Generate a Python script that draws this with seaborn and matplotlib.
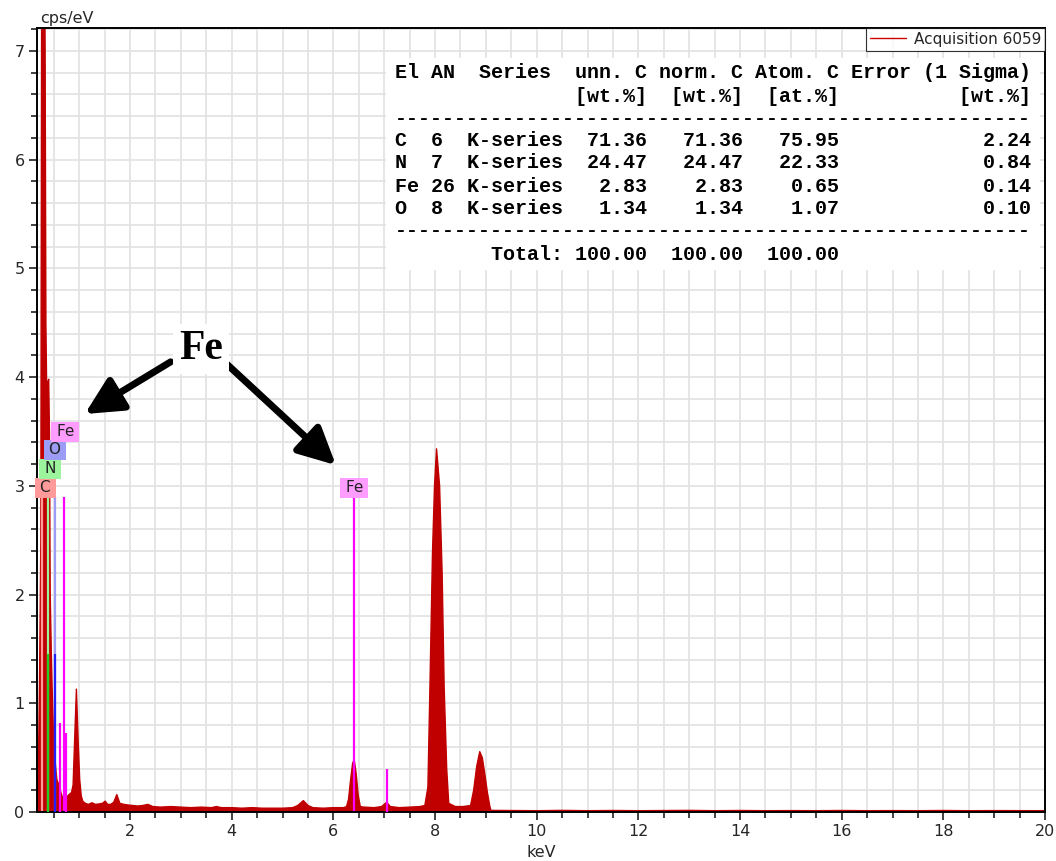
import matplotlib
matplotlib.use("Agg")
import matplotlib.pyplot as plt
from matplotlib.lines import Line2D
from matplotlib.patches import Rectangle
from matplotlib.ticker import MultipleLocator
import pandas as pd
import seaborn as sns

# ---- spectrum (keV, cps/eV) ----
energy_kev = [
    0.17, 0.18, 0.20, 0.22, 0.245, 0.255, 0.27, 0.30, 0.33, 0.345,
    0.36, 0.38, 0.40, 0.415, 0.43, 0.45, 0.47, 0.49, 0.51, 0.53,
    0.56, 0.60, 0.64, 0.68, 0.72, 0.76, 0.80, 0.85, 0.88, 0.91,
    0.945, 0.98, 1.01, 1.04, 1.07, 1.12, 1.18, 1.25, 1.32, 1.40,
    1.46, 1.51, 1.56, 1.62, 1.68, 1.74, 1.80, 1.88, 1.95, 2.05,
    2.15, 2.25, 2.35, 2.45, 2.60, 2.80, 3.00, 3.20, 3.40, 3.60,
    3.70, 3.80, 4.00, 4.20, 4.40, 4.60, 4.80, 5.00, 5.20, 5.30,
    5.41, 5.50, 5.60, 5.80, 6.00, 6.20, 6.26, 6.30, 6.34, 6.38,
    6.41, 6.45, 6.49, 6.53, 6.60, 6.80, 6.95, 7.05, 7.12, 7.30,
    7.50, 7.70, 7.80, 7.86, 7.90, 7.95, 7.99, 8.03, 8.09, 8.14,
    8.18, 8.23, 8.27, 8.40, 8.55, 8.70, 8.76, 8.82, 8.88, 8.93,
    8.98, 9.03, 9.08, 9.10, 9.50, 10.0, 10.5, 11.0, 11.5, 12.0,
    12.5, 13.0, 13.5, 14.0, 14.5, 15.0, 15.5, 16.0, 16.5, 17.0,
    17.5, 18.0, 18.5, 19.0, 19.5, 20.0,
]
counts_cps = [
    0.00, 0.20, 0.50, 1.20, 2.50, 6.00, 9.50, 9.50, 7.00, 4.50,
    3.90, 3.95, 3.98, 3.50, 2.00, 1.50, 1.10, 0.80, 0.60, 0.45,
    0.30, 0.25, 0.18, 0.12, 0.10, 0.14, 0.16, 0.18, 0.25, 0.65,
    1.13, 0.65, 0.30, 0.15, 0.10, 0.08, 0.07, 0.085, 0.07, 0.075,
    0.08, 0.10, 0.07, 0.07, 0.09, 0.16, 0.08, 0.07, 0.065, 0.06,
    0.055, 0.06, 0.07, 0.05, 0.045, 0.05, 0.045, 0.04, 0.045, 0.04,
    0.05, 0.04, 0.04, 0.035, 0.04, 0.035, 0.035, 0.035, 0.04, 0.06,
    0.105, 0.06, 0.04, 0.035, 0.04, 0.04, 0.05, 0.12, 0.30, 0.45,
    0.48, 0.35, 0.15, 0.05, 0.045, 0.04, 0.05, 0.09, 0.05, 0.04,
    0.045, 0.05, 0.06, 0.23, 1.15, 2.38, 3.00, 3.34, 3.00, 2.20,
    1.15, 0.40, 0.08, 0.05, 0.05, 0.06, 0.20, 0.42, 0.555, 0.50,
    0.35, 0.18, 0.05, 0.015, 0.014, 0.012, 0.015, 0.012, 0.014, 0.012,
    0.013, 0.015, 0.012, 0.014, 0.012, 0.013, 0.012, 0.014, 0.012, 0.013,
    0.012, 0.014, 0.012, 0.013, 0.012, 0.012,
]

# ---- element marker lines ----
marker_elements = ["C", "N", "O", "Fe", "Fe"]
marker_energy = [0.277, 0.392, 0.525, 0.705, 6.40]
marker_height = [2.9, 2.9, 2.9, 2.9, 2.9]
marker_label_x = [0.33, 0.43, 0.525, 0.73, 6.415]
marker_label_y = [2.98, 3.155, 3.33, 3.495, 2.98]

# fitted line intensities
line_energy = [0.392, 0.525, 0.628, 0.745, 7.06]
line_height = [1.45, 1.45, 0.82, 0.73, 0.40]
line_element = ["N", "O", "Fe", "Fe", "Fe"]

element_light = {"C": "#ff9a9a", "N": "#9cf59c", "O": "#9c9cf7", "Fe": "#ff9cff"}
element_dark = {"C": "#ff6060", "N": "#22cc22", "O": "#2020ff", "Fe": "#ff00ff"}

# ---- quantification table ----
table_rows = [
    "El AN  Series  unn. C norm. C Atom. C Error (1 Sigma)",
    "               [wt.%]  [wt.%]  [at.%]          [wt.%]",
    "-----------------------------------------------------",
    "C  6  K-series  71.36   71.36   75.95            2.24",
    "N  7  K-series  24.47   24.47   22.33            0.84",
    "Fe 26 K-series   2.83    2.83    0.65            0.14",
    "O  8  K-series   1.34    1.34    1.07            0.10",
    "-----------------------------------------------------",
    "        Total: 100.00  100.00  100.00",
]

x_ticks = [2, 4, 6, 8, 10, 12, 14, 16, 18, 20]
y_ticks = [0, 1, 2, 3, 4, 5, 6, 7]

sns.set_theme(style="white")
plt.rcParams["font.family"] = ["DejaVu Sans"]

W, H = 1056, 861
fig = plt.figure(figsize=(W / 100, H / 100), dpi=100)
ax_l, ax_r, ax_t, ax_b = 37, 1045, 28, 812
ax = fig.add_axes([ax_l / W, 1 - ax_b / H, (ax_r - ax_l) / W, (ax_b - ax_t) / H])


def px(xp, yp):
    """pixel position of the figure -> axes fraction"""
    return (xp - ax_l) / (ax_r - ax_l), (ax_b - yp) / (ax_b - ax_t)


spec = pd.DataFrame({"keV": energy_kev, "cps": counts_cps})
red = "#c00000"
ax.fill_between(spec["keV"], 0, spec["cps"], color=red, lw=0, zorder=2)
sns.lineplot(data=spec, x="keV", y="cps", color=red, lw=1.0, ax=ax, zorder=2.1,
             label="Acquisition 6059")

# marker lines and intensity lines
for el, e, h in zip(marker_elements, marker_energy, marker_height):
    ax.vlines(e, 0, h, color=element_light[el] if el != "Fe" else element_dark[el],
              lw=1.6, zorder=2.5)
for el, e, h in zip(line_element, line_energy, line_height):
    ax.vlines(e, 0, h, color=element_dark[el], lw=1.6, zorder=2.6)
for el, lx, ly in zip(marker_elements, marker_label_x, marker_label_y):
    ax.text(lx, ly, f"\u2009{el}\u2009", ha="center", va="center", fontsize=11,
            color="#222222", zorder=5,
            bbox=dict(boxstyle="square,pad=0.15", fc=element_light[el], ec="none"))

ax.set_xlim(0.17, 20)
ax.set_ylim(0, 7.21)
ax.set_xticks(x_ticks)
ax.set_yticks(y_ticks)
ax.xaxis.set_minor_locator(MultipleLocator(0.5))
ax.yaxis.set_minor_locator(MultipleLocator(0.2))
ax.grid(True, which="both", color="#e2e2e2", lw=1.2)
ax.set_axisbelow(True)
ax.tick_params(which="major", direction="out", length=6, width=1.3, color="#333333",
               labelsize=11.5, bottom=True, left=True, pad=3)
ax.tick_params(which="minor", direction="out", length=4, width=1.3, color="#333333",
               bottom=True, left=True)
for s in ax.spines.values():
    s.set_color("black")
    s.set_linewidth(1.4)
ax.set_xlabel("keV", fontsize=11.5, labelpad=4)
ax.set_ylabel("")
ax.text(0.003, 1.003, "cps/eV", transform=ax.transAxes, ha="left", va="bottom",
        fontsize=11.5)

# legend
leg = ax.legend(handles=[Line2D([], [], color="#cc0000", lw=1)],
                labels=["Acquisition 6059"], loc="upper right", fontsize=11,
                frameon=True, fancybox=False, borderaxespad=0, handlelength=2.4,
                borderpad=0.25, handletextpad=0.5)
leg.get_frame().set_edgecolor("black")
leg.get_frame().set_linewidth(0.8)
leg.set_zorder(10)

# table block
x0, y0 = px(386, 58)
x1, y1 = px(1040, 270)
ax.add_patch(Rectangle((x0, y1), x1 - x0, y0 - y1, transform=ax.transAxes,
                       fc="white", ec="none", zorder=3))
row_y = [72, 96, 119, 140, 163, 186, 208, 231, 254]
tx, _ = px(395, 0)
for row, yp in zip(table_rows, row_y):
    ax.text(tx, px(0, yp)[1], row, transform=ax.transAxes, ha="left", va="center",
            family="Liberation Mono", fontweight="bold", fontsize=14.4,
            color="black", zorder=4)

# Fe annotation with arrows
arrow_kw = dict(arrowstyle="-|>,head_length=0.9,head_width=0.45", lw=5,
                color="black", shrinkA=0, shrinkB=0, mutation_scale=25)
ax.annotate("", xy=(1.11, 3.66), xytext=(2.80, 4.14), arrowprops=arrow_kw, zorder=6)
ax.annotate("", xy=(6.05, 3.19), xytext=(3.81, 4.16), arrowprops=arrow_kw, zorder=6)
ax.text(3.40, 4.26, "Fe", ha="center", va="center", fontsize=30, fontweight="bold",
        family="Liberation Serif", color="black", zorder=7,
        bbox=dict(boxstyle="square,pad=0.15", fc="white", ec="none"))

fig.savefig("out.png", dpi=100)
